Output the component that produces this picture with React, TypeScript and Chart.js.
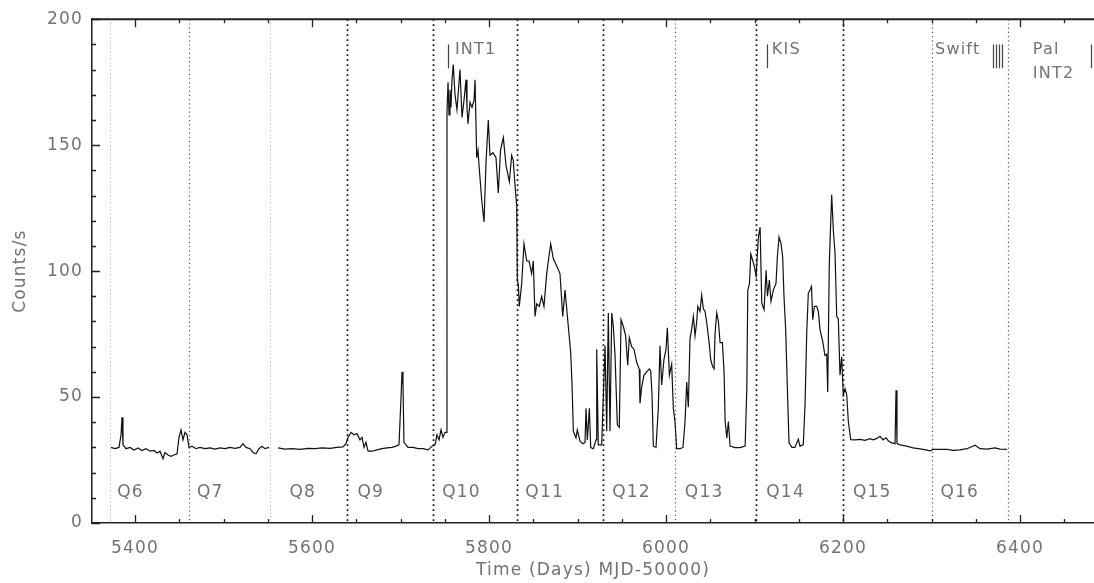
import React, { useEffect, useRef } from "react";
import { Chart, registerables } from "chart.js";

Chart.register(...registerables);

// ---- data (MJD-50000, counts/s) ----
const days: number[] = [
  // Q6
  5372.9, 5377.4, 5381.9, 5384.2, 5385.3, 5386.4, 5389.8, 5394.4, 5398.9, 5403.4, 5407.9, 5412.4, 5417.0, 5421.5,
  5424.9, 5428.2, 5431.6, 5433.9, 5437.3, 5440.7, 5444.1, 5447.5, 5449.7, 5452.0, 5454.2, 5456.5, 5458.8, 5461.0,
  // Q7
  5464.4, 5468.9, 5473.4, 5479.1, 5484.7, 5490.4, 5496.0, 5501.7, 5507.3, 5513.0, 5518.6, 5522.0, 5525.4, 5529.9,
  5533.3, 5536.7, 5540.1, 5543.5, 5546.9, 5551.4, 5556.0,
  // Q8
  5561.6, 5569.5, 5577.4, 5586.4, 5595.5, 5603.4, 5611.3, 5620.3, 5628.2, 5635.0, 5638.4,
  // Q9
  5640.7, 5644.1, 5647.5, 5650.8, 5654.2, 5656.5, 5658.8, 5661.0, 5663.3, 5667.8, 5673.4, 5679.1, 5684.7, 5690.4,
  5694.9, 5698.3, 5700.6, 5701.7, 5702.8, 5703.9, 5708.5, 5714.1, 5719.8, 5725.4, 5731.1, 5735.6,
  // Q10
  5739.0, 5741.2, 5743.5, 5745.8, 5748.0, 5750.3, 5751.4, 5752.5, 5753.7, 5754.8, 5755.9, 5757.0, 5758.2, 5759.6,
  5761.6, 5763.8, 5765.5, 5767.2, 5768.4, 5769.5, 5771.8, 5774.0, 5775.1, 5776.3, 5778.5, 5780.8, 5783.1, 5784.2,
  5786.1, 5787.6, 5788.7, 5791.8, 5794.4, 5796.6, 5799.2, 5801.1, 5804.5, 5807.9, 5810.5, 5813.0, 5816.2, 5819.2,
  5823.0, 5825.6, 5827.4, 5829.4, 5831.3,
  // Q11
  5832.0, 5833.1, 5834.2, 5836.9, 5839.5, 5842.6, 5845.2, 5848.2, 5850.0, 5852.0, 5853.9, 5856.8, 5859.5, 5862.1,
  5865.2, 5867.0, 5869.7, 5872.6, 5876.5, 5880.2, 5883.3, 5885.9, 5889.6, 5892.3, 5893.8, 5895.3, 5898.3, 5899.8,
  5902.8, 5906.2, 5908.5, 5909.6, 5911.1, 5913.4, 5914.9, 5917.9, 5920.9, 5921.7, 5923.5, 5927.3,
  // Q12
  5931.1, 5933.0, 5934.8, 5936.7, 5938.7, 5940.5, 5942.4, 5945.0, 5947.2, 5949.2, 5951.8, 5954.4, 5956.7, 5958.5,
  5961.2, 5963.8, 5966.9, 5969.8, 5970.6, 5972.5, 5975.1, 5978.2, 5981.1, 5982.7, 5984.2, 5985.7, 5988.7, 5991.3,
  5993.2, 5995.1, 5997.7, 6000.0, 6001.5, 6003.8, 6006.4, 6008.3, 6010.2, 6012.1,
  // Q13
  6015.8, 6019.2, 6021.5, 6023.4, 6025.2, 6027.1, 6029.0, 6030.9, 6032.8, 6034.7, 6035.9, 6038.4, 6040.3, 6042.2,
  6044.1, 6046.0, 6048.6, 6050.6, 6052.8, 6054.3, 6055.4, 6057.3, 6059.2, 6061.1, 6063.7, 6065.6, 6066.8, 6068.7,
  6070.5, 6072.4, 6078.0, 6083.7, 6089.4, 6091.3, 6092.4, 6094.3, 6095.8, 6098.1, 6099.9, 6101.8,
  // Q14
  6104.4, 6106.3, 6108.2, 6110.8, 6113.1, 6114.6, 6116.8, 6118.6, 6121.3, 6124.3, 6125.8, 6127.7, 6129.9, 6131.8,
  6133.3, 6135.2, 6137.0, 6139.0, 6142.3, 6145.7, 6149.5, 6151.4, 6155.1, 6157.1, 6159.0, 6160.8, 6162.7, 6164.4,
  6165.8, 6167.6, 6170.3, 6172.1, 6174.0, 6177.1, 6179.6, 6181.6, 6182.7, 6184.5, 6187.2, 6189.1, 6191.0, 6192.9,
  6194.7, 6196.6, 6198.5, 6200.3,
  // Q15
  6202.3, 6204.2, 6206.0, 6208.7, 6213.6, 6219.2, 6224.9, 6230.5, 6233.9, 6238.4, 6241.8, 6245.2, 6248.6, 6251.4,
  6255.0, 6258.8, 6259.9, 6261.0, 6264.4, 6272.0, 6279.1, 6287.0, 6293.8, 6298.3,
  // Q16
  6301.7, 6309.6, 6317.5, 6324.3, 6332.2, 6340.1, 6349.2, 6354.8, 6362.7, 6371.8, 6377.4, 6385.3,
];

const counts: (number | null)[] = [
  // Q6
  30, 29.5, 30, 35, 42, 31, 29.5, 30, 29, 29.8, 28.8, 29.5, 28.5, 28.8,
  27.8, 28.5, 25.5, 28, 27, 26.5, 27, 27.5, 34, 37, 33, 36, 35, 30,
  // Q7
  30.5, 29.5, 30, 29.5, 29.8, 29.3, 29.8, 29.5, 30, 29.6, 30, 31.5, 30, 29.5,
  28, 27.5, 29.5, 30.5, 29.5, 30, null,
  // Q8
  29.8, 29.3, 29.5, 29.2, 29.6, 29.5, 29.8, 29.6, 30, 30.2, 31.5,
  // Q9
  34, 36, 35, 35.5, 33, 34, 30, 32, 28.5, 28.5, 29, 29.5, 29.8, 30,
  30.5, 31, 50, 60, 55, 32, 30, 30, 29.5, 29.5, 29, 30.5,
  // Q10
  31, 35, 33, 37, 34, 36, 36, 163, 175, 162, 172, 165, 176, 182,
  170, 164, 172, 180, 170, 161, 168, 176, 165, 158.5, 167, 165, 168, 176,
  145, 148, 142, 128, 119.5, 143, 160, 146, 147, 145, 131, 148, 153, 142,
  135.5, 146, 144, 134, 126,
  // Q11
  96, 95, 86, 95, 110.8, 104, 104, 99, 104, 82, 87, 86, 90, 86,
  99, 104, 110.8, 105, 102, 99, 82, 92.5, 78, 67.7, 55, 36.4, 33.8, 37,
  32.5, 31.5, 32, 45.5, 33, 45.5, 29.9, 29.5, 33, 69, 31, 31,
  // Q12
  70.4, 36.4, 83.4, 36.4, 83.4, 78, 66.5, 39, 38, 80.7, 78, 74.3, 62.6, 73.6,
  70, 69, 63.8, 61, 47.5, 54, 58.7, 60, 61.2, 60.5, 50.9, 30.5, 30, 45.5,
  70.4, 54.8, 65, 69, 77.5, 58.7, 63, 45.5, 40, 29.4,
  // Q13
  29.5, 30, 40.3, 56, 46, 73, 77, 82, 74.3, 80, 86, 84, 90.5, 85,
  84, 79.5, 72, 64.6, 62, 61.2, 75, 83.4, 80, 71.6, 71.6, 60, 40.3, 33.8,
  40.3, 30.5, 29.9, 29.9, 30.5, 53.3, 92.5, 95, 106.8, 104, 101.8, 98,
  // Q14
  113.5, 117.4, 87.3, 84.7, 100.3, 90, 96.4, 88, 92.5, 95.1, 105.7, 113.5, 111, 105.7,
  90, 76.8, 55, 31.8, 30, 30, 33.3, 30.5, 31, 47, 75.5, 91.2, 92.5, 93.9,
  80.7, 86, 86, 84, 76.8, 72, 66.5, 67, 52, 103, 130.3, 116, 106.8, 82,
  81, 58.7, 66, 50.9,
  // Q15
  53.3, 50.9, 40.3, 33.1, 33, 33.2, 32.8, 33.5, 33, 33.6, 34.4, 33, 33.8, 32.5,
  31.8, 31.5, 52.7, 31.5, 31, 30.5, 29.8, 29.4, 29, 28.6,
  // Q16
  29.2, 29.2, 29.2, 28.8, 29, 29.5, 30.9, 29.5, 29.3, 29.8, 29.3, 29.2,
];

// quarter boundaries (MJD-50000) and labels
const quarterStarts = [5372, 5461, 5552, 5640, 5737, 5832, 5929, 6010, 6102, 6200, 6301, 6386];
const quarterLabels = ["Q6", "Q7", "Q8", "Q9", "Q10", "Q11", "Q12", "Q13", "Q14", "Q15", "Q16"];

// observation campaign markers
const markerDays = [5754, 6114, 6369.5, 6373, 6376.3, 6379.7, 6480];
const markerRange = [180.5, 190];
const annotTexts = ["INT1", "KIS", "Swift", "Pal", "INT2"];
const annotDays = [5761.5, 6119.5, 6304, 6414.5, 6414.5];
const annotCounts = [188, 188, 188, 188, 178.5];

// axes
const xTicks = [5400, 5600, 5800, 6000, 6200, 6400];
const yTicks = [0, 50, 100, 150, 200];
const xRange = [5351.4, 6483.6];
const yRange = [0, 200];

// styles (not data)
const lineStyles = ["light", "mid", "light", "dark", "dark", "dark", "dark", "mid", "dark", "dark", "mid", "mid"];
const labelOffsetPx = [7, 8, 20, 10, 9, 8, 9, 10, 10, 10, 8];
const TEXT = "#737373";
const FONT = "DejaVu Sans";

const overlay = {
  id: "overlay",
  beforeDraw(chart: any) {
    try { chart.ctx.letterSpacing = "1.2px"; } catch (e) {}
  },
  beforeDatasetsDraw(chart: any) {
    const { ctx, chartArea } = chart;
    const xs = chart.scales.x;
    ctx.save();
    quarterStarts.forEach((d, i) => {
      const st = lineStyles[i];
      const px = Math.round(xs.getPixelForValue(d)) + 0.5;
      if (st === "dark") { ctx.strokeStyle = "#111"; ctx.lineWidth = 1.7; ctx.setLineDash([1.7, 3.3]); }
      else if (st === "mid") { ctx.strokeStyle = "#555"; ctx.lineWidth = 1.2; ctx.setLineDash([1.2, 3]); }
      else { ctx.strokeStyle = "#bbb"; ctx.lineWidth = 1.1; ctx.setLineDash([1.1, 2.5]); }
      ctx.beginPath();
      ctx.moveTo(px, chartArea.top);
      ctx.lineTo(px, chartArea.bottom);
      ctx.stroke();
    });
    ctx.restore();
  },
  afterDraw(chart: any) {
    const { ctx, chartArea } = chart;
    const xs = chart.scales.x;
    const ys = chart.scales.y;
    const { left, right, top, bottom } = chartArea;
    ctx.save();
    ctx.setLineDash([]);
    // top frame
    ctx.strokeStyle = "#222";
    ctx.lineWidth = 2;
    ctx.beginPath();
    ctx.moveTo(left, top);
    ctx.lineTo(right, top);
    ctx.stroke();
    // inward ticks
    ctx.lineWidth = 1.3;
    ctx.beginPath();
    const x0 = Math.ceil(xs.min / 50) * 50;
    for (let v = x0; v <= xs.max; v += 50) {
      const px = Math.round(xs.getPixelForValue(v)) + 0.5;
      const len = v % 200 === 0 ? 8 : 4;
      ctx.moveTo(px, bottom);
      ctx.lineTo(px, bottom - len);
      ctx.moveTo(px, top);
      ctx.lineTo(px, top + len);
    }
    for (let v = yRange[0]; v <= yRange[1]; v += 10) {
      const py = Math.round(ys.getPixelForValue(v)) + 0.5;
      const len = v % 50 === 0 ? 8 : 4;
      ctx.moveTo(left, py);
      ctx.lineTo(left + len, py);
    }
    ctx.stroke();
    // campaign markers
    ctx.strokeStyle = "#444";
    ctx.lineWidth = 1.2;
    ctx.beginPath();
    markerDays.forEach((d) => {
      const px = Math.round(xs.getPixelForValue(d)) + 0.5;
      ctx.moveTo(px, ys.getPixelForValue(markerRange[0]));
      ctx.lineTo(px, ys.getPixelForValue(markerRange[1]));
    });
    ctx.stroke();
    // texts
    ctx.fillStyle = TEXT;
    ctx.font = `16px "${FONT}"`;
    ctx.textBaseline = "middle";
    ctx.textAlign = "left";
    annotTexts.forEach((t, i) => {
      ctx.fillText(t, xs.getPixelForValue(annotDays[i]), ys.getPixelForValue(annotCounts[i]));
    });
    ctx.font = `17px "${FONT}"`;
    quarterLabels.forEach((t, i) => {
      ctx.fillText(t, xs.getPixelForValue(quarterStarts[i]) + labelOffsetPx[i], ys.getPixelForValue(12));
    });
    ctx.restore();
  },
};

export default function App() {
  const ref = useRef<HTMLCanvasElement | null>(null);
  useEffect(() => {
    document.body.style.margin = "0";
    const canvas = ref.current;
    if (!canvas) return;
    const points = days.map((d, i) => ({ x: d, y: counts[i] }));
    const chart = new Chart(canvas, {
      type: "line",
      data: {
        datasets: [
          {
            data: points as any,
            borderColor: "#111",
            borderWidth: 1.2,
            pointRadius: 0,
            tension: 0,
            spanGaps: false,
          },
        ],
      },
      options: {
        animation: false,
        responsive: true,
        maintainAspectRatio: false,
        layout: { padding: { top: 12, right: 0, left: 0, bottom: 0 } },
        plugins: { legend: { display: false }, tooltip: { enabled: false } },
        scales: {
          x: {
            type: "linear",
            min: xRange[0],
            max: xRange[1],
            afterFit: (s: any) => { s.height = 60; },
            afterBuildTicks: (s: any) => { s.ticks = xTicks.map((v) => ({ value: v })); },
            grid: { display: false, drawTicks: false },
            border: { display: true, color: "#222", width: 1.5 },
            ticks: {
              color: TEXT,
              font: { family: FONT, size: 17 },
              padding: 15,
              maxRotation: 0,
              autoSkip: false,
              callback: (v: any) => String(v),
            },
            title: {
              display: true,
              text: "Time (Days) MJD-50000)",
              color: TEXT,
              font: { family: FONT, size: 17 },
              padding: { top: 0, bottom: 2 },
            },
          },
          y: {
            min: yRange[0],
            max: yRange[1],
            afterFit: (s: any) => { s.width = 92; },
            afterBuildTicks: (s: any) => { s.ticks = yTicks.map((v) => ({ value: v })); },
            grid: { display: false, drawTicks: false },
            border: { display: true, color: "#222", width: 1.5 },
            ticks: {
              color: TEXT,
              font: { family: FONT, size: 17 },
              padding: 9,
              autoSkip: false,
              callback: (v: any) => String(v),
            },
            title: {
              display: true,
              text: "Counts/s",
              color: TEXT,
              font: { family: FONT, size: 17 },
              padding: { top: 10, bottom: 0 },
            },
          },
        },
      },
      plugins: [overlay],
    });
    return () => chart.destroy();
  }, []);
  return (
    <div style={{ width: 1094, height: 583, position: "relative", background: "#fff" }}>
      <canvas ref={ref} />
    </div>
  );
}
